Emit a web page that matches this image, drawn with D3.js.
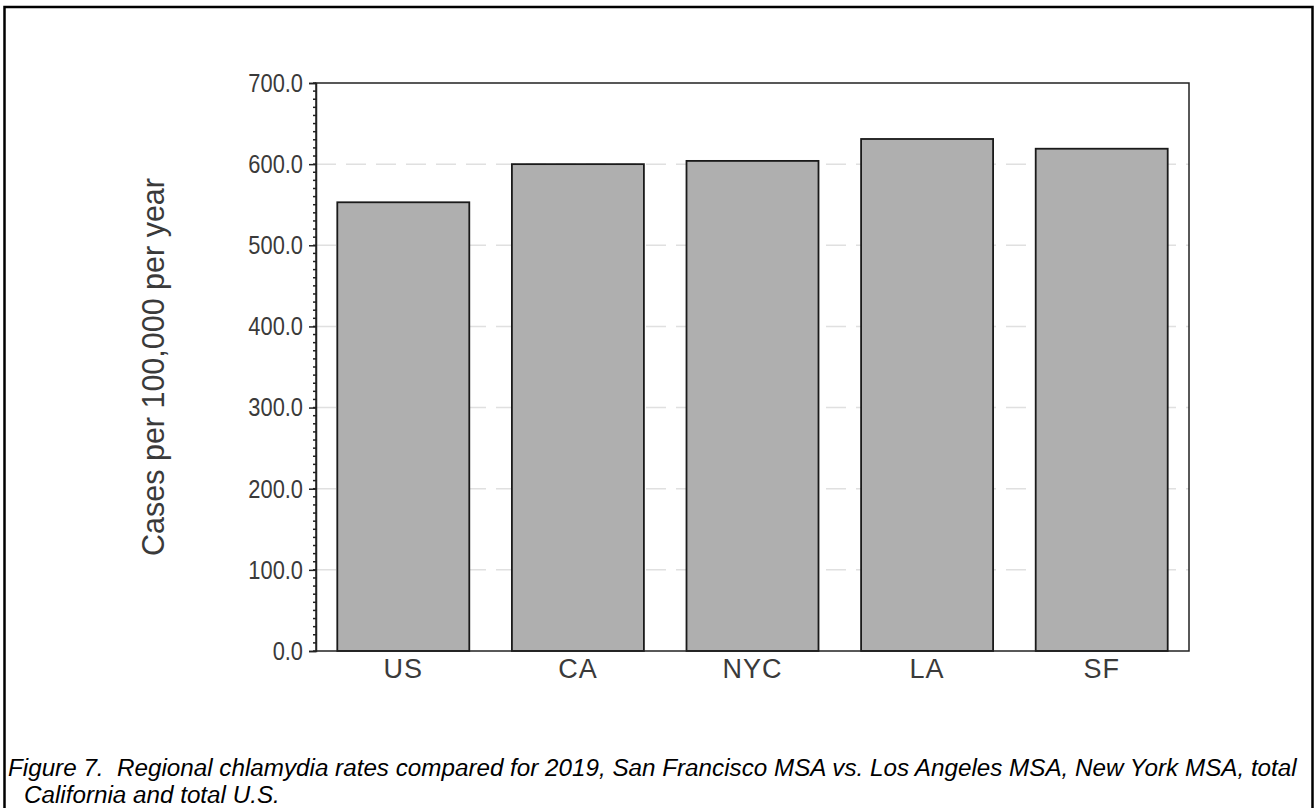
<!DOCTYPE html>
<html><head><meta charset="utf-8">
<script src="https://cdn.jsdelivr.net/npm/d3@7"></script>
<style>body{margin:0;background:#fff}svg{display:block}</style>
</head><body>
<script>
const categories = ["US","CA","NYC","LA","SF"];
const rates = [553, 600, 604, 631, 619];
const yTicks = [0,100,200,300,400,500,600,700];
const yTitle = "Cases per 100,000 per year";
const captionLines = ["Figure 7.  Regional chlamydia rates compared for 2019, San Francisco MSA vs. Los Angeles MSA, New York MSA, total",
                      "California and total U.S."];

const W=1316,H=808;
const svg=d3.select("body").append("svg").attr("width",W).attr("height",H);
const font="Liberation Sans, Arial, sans-serif";
svg.append("rect").attr("x",4.5).attr("y",7).attr("width",1308).attr("height",H+20)
  .attr("fill","none").attr("stroke","#000").attr("stroke-width",2.5);

const L=316,R=1189,T=83,B=651;
const x=d3.scaleBand().domain(categories).range([L,R]).paddingInner(0.244).paddingOuter(0.122);
const y=d3.scaleLinear().domain([0,700]).range([B,T]);

// grid
svg.append("g").selectAll("line").data(yTicks.filter(d=>d>0&&d<700)).join("line")
  .attr("x1",L).attr("x2",R).attr("y1",d=>y(d)).attr("y2",d=>y(d))
  .attr("stroke","#e0e0e0").attr("stroke-width",1.5).attr("stroke-dasharray","20,10");

// bars
svg.append("g").selectAll("rect").data(categories).join("rect")
  .attr("x",d=>x(d)).attr("width",x.bandwidth())
  .attr("y",(d,i)=>y(rates[i])).attr("height",(d,i)=>B-y(rates[i]))
  .attr("fill","#afafaf").attr("stroke","#1a1a1a").attr("stroke-width",1.8);

// frame
svg.append("rect").attr("x",L).attr("y",T).attr("width",R-L).attr("height",B-T)
  .attr("fill","none").attr("stroke","#222").attr("stroke-width",1.5);

// minor ticks
const minor=d3.range(0,701,10);
svg.append("g").selectAll("line").data(minor).join("line")
  .attr("x1",L-3).attr("x2",L).attr("y1",d=>y(d)).attr("y2",d=>y(d))
  .attr("stroke","#222").attr("stroke-width",1.5);

// y axis
const yAxis=d3.axisLeft(y).tickValues(yTicks).tickFormat(d3.format(".1f")).tickSize(7).tickPadding(6);
const gy=svg.append("g").attr("transform",`translate(${L},0)`).call(yAxis);
gy.select(".domain").attr("stroke","#222").attr("stroke-width",1.5);
gy.selectAll(".tick line").attr("stroke","#222").attr("stroke-width",1.5);
gy.selectAll(".tick text").attr("font-family",font).attr("font-size",26).attr("fill","#3a3a3a")
  .each(function(){const w=this.getComputedTextLength();d3.select(this).attr("textLength",w*0.84).attr("lengthAdjust","spacingAndGlyphs");});

// x axis
const xAxis=d3.axisBottom(x).tickSize(0).tickPadding(8);
const gx=svg.append("g").attr("transform",`translate(0,${B})`).call(xAxis);
gx.select(".domain").remove();
gx.selectAll(".tick text").attr("font-family",font).attr("font-size",27).attr("fill","#3a3a3a").attr("letter-spacing",1);

// y title
const yt=svg.append("text").attr("transform","translate(153,367) rotate(-90)")
  .attr("text-anchor","middle").attr("dominant-baseline","central")
  .attr("font-family",font).attr("font-size",28).attr("fill","#3a3a3a").text(yTitle);
const tl=yt.node().getComputedTextLength();
yt.attr("font-size",28*378/tl);

// caption
const c1=svg.append("text").attr("x",8).attr("y",776).style("white-space","pre")
  .attr("font-family",font).attr("font-style","italic").attr("font-size",20).attr("fill","#000").text(captionLines[0]);
const cl=c1.node().getComputedTextLength();
const cs=20*1289/cl;
c1.attr("font-size",cs);
svg.append("text").attr("x",24).attr("y",803).style("white-space","pre")
  .attr("font-family",font).attr("font-style","italic").attr("font-size",cs).attr("fill","#000").text(captionLines[1]);
</script>
</body></html>
